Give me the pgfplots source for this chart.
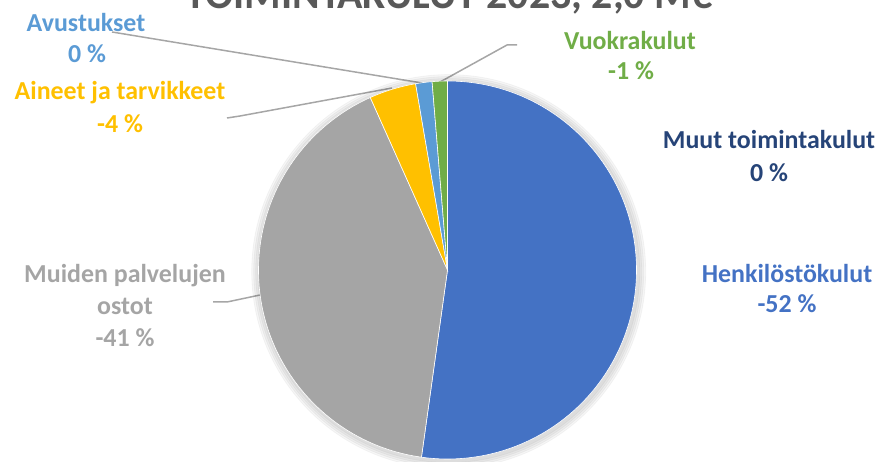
\documentclass[border=0pt]{standalone}
\usepackage{pgfplots}
\pgfplotsset{compat=1.18}
\usepackage{pgfplotstable}
\usepackage{fontspec}
\setmainfont{Carlito}

\definecolor{henk}{HTML}{4472C4}
\definecolor{muiden}{HTML}{A5A5A5}
\definecolor{aineet}{HTML}{FFC000}
\definecolor{avust}{HTML}{5B9BD5}
\definecolor{vuokra}{HTML}{70AD47}
\definecolor{muut}{HTML}{264478}
\definecolor{otsikko}{HTML}{595959}
\definecolor{viiva}{HTML}{A6A6A6}

\tikzset{lbl/.style={anchor=base, font=\fontsize{13}{15}\selectfont\bfseries}}

% sektorit myotapaivaan klo 12:sta, alku ja loppu prosentteina
% nro: 0 henkilosto, 1 muiden palv., 2 aineet, 3 avustukset, 4 vuokrat, 5 muut
\pgfplotstableread{
x     y   alku  loppu  nro
447.5 192 0     52.2   0
447.5 192 52.2  93.3   1
447.5 192 93.3  97.3   2
447.5 192 97.3  98.7   3
447.5 192 98.7  100    4
447.5 192 100   100    5
}\kulut

\begin{document}
\begin{tikzpicture}
\useasboundingbox (0,0) rectangle (441bp,231bp);
\clip (0,0) rectangle (441bp,231bp);
\begin{axis}[
    at={(0,0)}, anchor=south west,
    width=441bp, height=231bp, scale only axis,
    xmin=0, xmax=882, ymin=0, ymax=462,
    hide axis, clip=false,
]
\addplot[scatter, only marks, mark=*, mark size=0.1pt,
    visualization depends on={\thisrow{alku} \as \kulAlku},
    visualization depends on={\thisrow{loppu} \as \kulLoppu},
    visualization depends on={\thisrow{nro} \as \kulNro},
    scatter/@pre marker code/.code={%
        \pgfmathsetmacro\kulA{90-3.6*\kulAlku}%
        \pgfmathsetmacro\kulB{90-3.6*\kulLoppu}%
        \pgfmathtruncatemacro\kulI{\kulNro}%
        \ifnum\kulI=0
            % pehmea varjo ympyran alle
            \foreach \r in {98.5,97.5,96.5,95.5}
                \fill[black, opacity=0.035] (0.6bp,-0.8bp) circle (\r bp);
        \fi
        \ifcase\kulI \colorlet{kv}{henk}\or \colorlet{kv}{muiden}\or
            \colorlet{kv}{aineet}\or \colorlet{kv}{avust}\or
            \colorlet{kv}{vuokra}\else \colorlet{kv}{muut}\fi
        \fill[kv, draw=white, line width=0.3pt] (0,0) -- (\kulA:94.5bp)
            arc[start angle=\kulA, end angle=\kulB, radius=94.5bp] -- cycle;
        \scope[opacity=0]%
    },
    scatter/@post marker code/.code={\endscope},
] table[x=x, y=y] {\kulut};

% viittausviivat
\addplot[viiva, line width=0.75bp] coordinates {(112,430) (422,379)};
\addplot[viiva, line width=0.75bp] coordinates {(227,344) (240,346) (392,374)};
\addplot[viiva, line width=0.75bp] coordinates {(517,417) (507,417) (440,380)};
\addplot[viiva, line width=0.75bp] coordinates {(213,160) (227,160) (260,167)};

\node[anchor=base, font=\fontsize{21}{25}\selectfont\bfseries, text=otsikko]
    at (449,453) {TOIMINTAKULUT 2023, 2,0 M€};

\node[lbl, text=avust] at (86,430) {Avustukset};
\node[lbl, text=avust] at (87,399) {0 \%};
\node[lbl, text=aineet] at (120,362) {Aineet ja tarvikkeet};
\node[lbl, text=aineet] at (120,329) {-4 \%};
\node[lbl, text=vuokra] at (630,412) {Vuokrakulut};
\node[lbl, text=vuokra] at (631,382) {-1 \%};
\node[lbl, text=muut] at (769,313) {Muut toimintakulut};
\node[lbl, text=muut] at (769,280) {0 \%};
\node[lbl, text=henk] at (787,179) {Henkilöstökulut};
\node[lbl, text=henk] at (787,149) {-52 \%};
\node[lbl, text=muiden] at (125,179) {Muiden palvelujen};
\node[lbl, text=muiden] at (125,147) {ostot};
\node[lbl, text=muiden] at (125,115) {-41 \%};
\end{axis}
\end{tikzpicture}
\end{document}
